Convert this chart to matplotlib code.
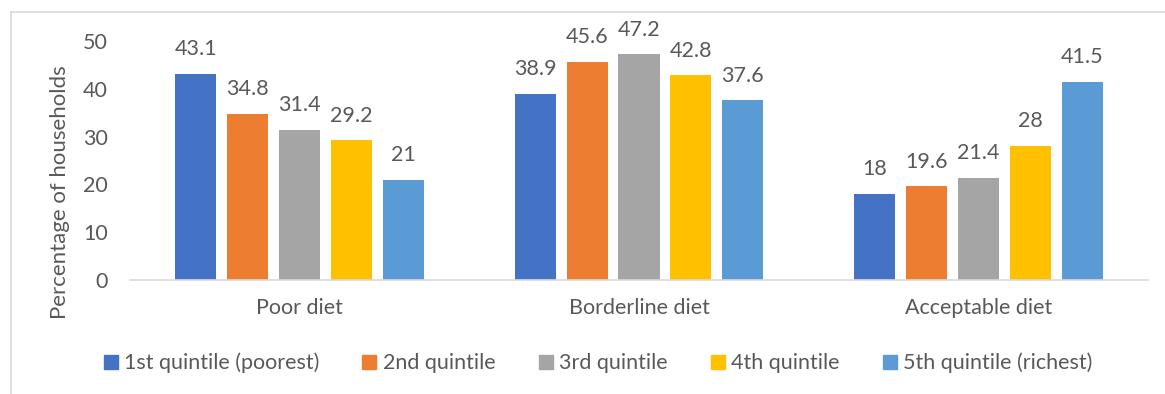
import matplotlib.pyplot as plt
import numpy as np
from matplotlib.lines import Line2D
from matplotlib.patches import Patch

# Share of households by diet quality and wealth quintile
categories = ["Poor diet", "Borderline diet", "Acceptable diet"]
quintiles = ["1st quintile (poorest)", "2nd quintile", "3rd quintile",
             "4th quintile", "5th quintile (richest)"]
q1 = [43.1, 38.9, 18]
q2 = [34.8, 45.6, 19.6]
q3 = [31.4, 47.2, 21.4]
q4 = [29.2, 42.8, 28]
q5 = [21, 37.6, 41.5]
labels = [["43.1", "38.9", "18"], ["34.8", "45.6", "19.6"], ["31.4", "47.2", "21.4"],
          ["29.2", "42.8", "28"], ["21", "37.6", "41.5"]]
colors = ["#4472C4", "#ED7D31", "#A5A5A5", "#FFC000", "#5B9BD5"]

text_color = "#595959"
plt.rcParams["font.family"] = ["Lato", "DejaVu Sans"]
fs = 15.5

W, H = 1165, 394
fig = plt.figure(figsize=(W / 100, H / 100), dpi=100)
ax = fig.add_axes([130 / W, (H - 280) / H, 1018 / W, 239 / H])

x = np.arange(len(categories))
pitch = 0.153
width = 0.121
series = [q1, q2, q3, q4, q5]
for i, vals in enumerate(series):
    pos = x + (i - 2) * pitch
    ax.bar(pos, vals, width, color=colors[i], label=quintiles[i])
    for px, v, lab in zip(pos, vals, labels[i]):
        ax.annotate(lab, (px, v), xytext=(0, 13.5), textcoords="offset points",
                    ha="center", va="baseline", fontsize=fs, color=text_color)

ax.set_xlim(-0.5, 2.5)
ax.set_ylim(0, 50)
ax.set_yticks(range(0, 51, 10))
ax.set_xticks(x)
ax.set_xticklabels(categories)
ax.tick_params(axis="both", length=0, labelsize=fs, colors=text_color)
ax.tick_params(axis="y", pad=16)
ax.tick_params(axis="x", pad=13)
for s in ["top", "right", "left"]:
    ax.spines[s].set_visible(False)
ax.spines["bottom"].set_color("#D9D9D9")
ax.spines["bottom"].set_linewidth(1.2)
ax.set_ylabel("Percentage of households", fontsize=fs + 0.5, color=text_color)
ax.yaxis.set_label_coords(-60 / 1018, 0.368)

handles = [Patch(color=c) for c in colors]
fig.legend(handles, quintiles, loc="center", bbox_to_anchor=(598 / W, (H - 363) / H),
           ncol=5, frameon=False, fontsize=fs, handlelength=0.65, handleheight=0.65,
           handletextpad=0.3, columnspacing=2.0, labelcolor=text_color)

# chart frame
fig.add_artist(Line2D([10.5 / W, 10.5 / W], [0, (H - 12) / H], color="#D9D9D9", lw=1.2,
                      transform=fig.transFigure))
fig.add_artist(Line2D([10.5 / W, 1], [(H - 12) / H, (H - 12) / H], color="#D9D9D9", lw=1.2,
                      transform=fig.transFigure))

fig.savefig("out.png", dpi=100)
